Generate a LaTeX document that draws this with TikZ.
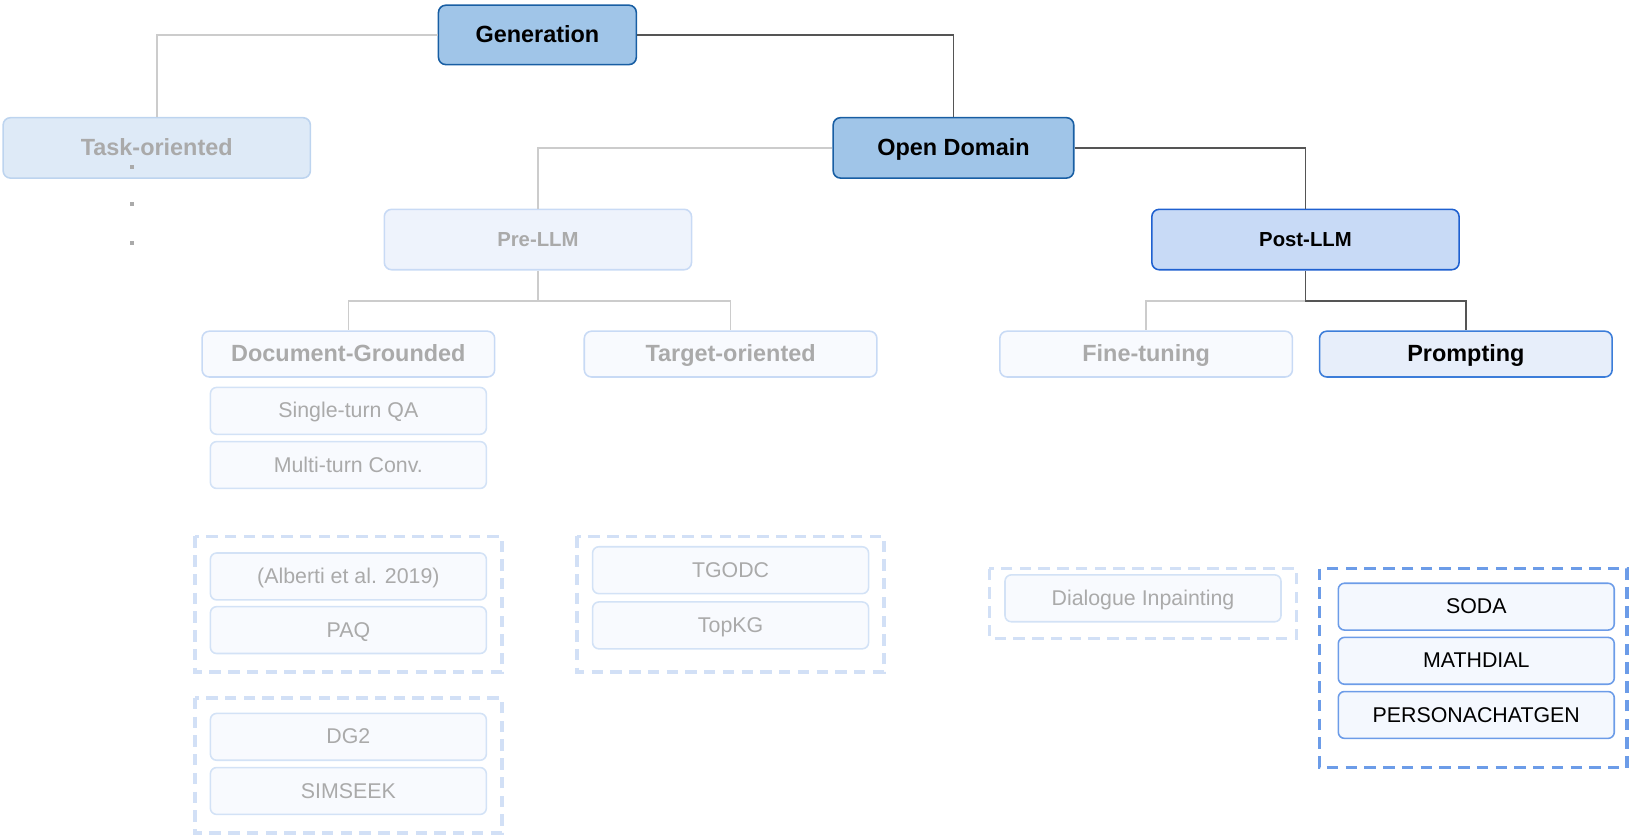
\documentclass[tikz,border=0pt]{standalone}
\usepackage{fontspec}
\setmainfont{Liberation Sans}
\definecolor{genfill}{HTML}{A0C5E8}
\definecolor{gendraw}{HTML}{185EA3}
\definecolor{postfill}{HTML}{C8DAF6}
\definecolor{postdraw}{HTML}{1F60D0}
\definecolor{promfill}{HTML}{E7EEFA}
\definecolor{promdraw}{HTML}{3C7DD9}
\definecolor{taskfill}{HTML}{DEEAF7}
\definecolor{taskdraw}{HTML}{BDD4EF}
\definecolor{prefill}{HTML}{EEF3FC}
\definecolor{paledraw}{HTML}{C8DAF5}
\definecolor{palefill}{HTML}{F8FAFE}
\definecolor{leafdraw}{HTML}{D3E2F6}
\definecolor{greytext}{HTML}{AAAAAA}
\definecolor{lightline}{HTML}{CCCCCC}
\definecolor{darkline}{HTML}{555555}
\definecolor{dashpale}{HTML}{D2E0F6}
\definecolor{dashblue}{HTML}{6C9CE8}
\definecolor{bluefill}{HTML}{F4F8FE}
\tikzset{
  box/.style={rectangle, rounded corners=7pt, line width=1.5pt, inner sep=0pt, align=center},
  fbig/.style={font=\fontsize{22.5}{26}\selectfont\bfseries, text height=16.1pt, text depth=1pt},
  fsmall/.style={font=\fontsize{19.5}{23}\selectfont\bfseries, text height=14pt, text depth=1pt},
  freg/.style={font=\fontsize{20.5}{24}\selectfont, text height=14.7pt, text depth=1pt},
  big/.style={box, minimum width=190pt, minimum height=57pt, fbig},
  wide/.style={box, minimum width=295pt, minimum height=58pt},
  mid/.style={box, minimum width=281pt, minimum height=44pt, fbig},
  leaf/.style={box, rounded corners=6pt, minimum width=265pt, minimum height=45pt, freg, fill=palefill, draw=leafdraw, text=greytext},
  bleaf/.style={leaf, fill=bluefill, draw=dashblue, text=black},
  grp/.style={draw=dashpale, line width=3.5pt, dash pattern=on 11pt off 7pt},
  bgrp/.style={grp, draw=dashblue},
  lline/.style={draw=lightline, line width=1.6pt},
  dline/.style={draw=darkline, line width=1.6pt},
  dotsq/.style={rectangle, fill=greytext, minimum width=4pt, minimum height=4pt, inner sep=0pt},
}
\begin{document}
\begin{tikzpicture}[x=1pt,y=-1pt]
\useasboundingbox (0,0) rectangle (1568,805);

% dashed groups
\draw[grp] (187,515) rectangle (482,645);
\draw[grp] (187,670) rectangle (482,800);
\draw[grp] (554,515) rectangle (849,645);
\draw[grp] (950,546) rectangle (1245,613);
\draw[bgrp] (1267,546) rectangle (1562,737);

% main nodes
\node[big, fill=genfill, draw=gendraw] (gen) at (516,33.5) {Generation};
\node[wide, fill=taskfill, draw=taskdraw, text=greytext, fbig] (task) at (150.5,142) {Task-oriented};
\node[box, minimum width=231pt, minimum height=58pt, fill=genfill, draw=gendraw, fbig] (od) at (915.5,142) {Open Domain};
\node[wide, fill=prefill, draw=paledraw, text=greytext, fsmall] (pre) at (516.5,230) {Pre-LLM};
\node[wide, fill=postfill, draw=postdraw, fsmall] (post) at (1253.5,230) {Post-LLM};

\node[mid, fill=palefill, draw=paledraw, text=greytext] (doc) at (334.5,340) {Document-Grounded};
\node[mid, fill=palefill, draw=paledraw, text=greytext] (tgt) at (701.5,340) {Target-oriented};
\node[mid, fill=palefill, draw=paledraw, text=greytext] (ft) at (1100.5,340) {Fine-tuning};
\node[mid, fill=promfill, draw=promdraw] (prom) at (1407.5,340) {Prompting};

% dots
\node[dotsq] (d1) at (127,160) {};
\node[dotsq] (d2) at (127,196) {};
\node[dotsq] (d3) at (127,233) {};

% leaves
\node[leaf] (sq) at (334.5,394.5) {Single-turn QA};
\node[leaf] (mt) at (334.5,446.5) {Multi-turn Conv.};
\node[leaf] (alb) at (334.5,553.5) {(Alberti et al. 2019)};
\node[leaf] (paq) at (334.5,605) {PAQ};
\node[leaf] (dg2) at (334.5,707.5) {DG2};
\node[leaf] (sim) at (334.5,759.5) {SIMSEEK};
\node[leaf] (tgodc) at (701.5,547.5) {TGODC};
\node[leaf] (topkg) at (701.5,600.5) {TopKG};
\node[leaf] (dip) at (1097.5,574.5) {Dialogue Inpainting};
\node[bleaf] (soda) at (1417.5,582.5) {SODA};
\node[bleaf] (math) at (1417.5,634.5) {MATHDIAL};
\node[bleaf] (pers) at (1417.5,686.5) {PERSONACHATGEN};

% connectors
\draw[lline] (gen.west) -| (task.north);
\draw[dline] (gen.east) -| (od.north);
\draw[lline] (od.west) -| (pre.north);
\draw[dline] (od.east) -| (post.north);
\coordinate (j1) at (516.5,289);
\draw[lline] (pre.south) -- (j1) -| (doc.north);
\draw[lline] (j1) -| (tgt.north);
\coordinate (j2) at (1253.5,289);
\draw[lline] (j2) -| (ft.north);
\draw[dline] (post.south) -- (j2) -| (prom.north);
\end{tikzpicture}
\end{document}
